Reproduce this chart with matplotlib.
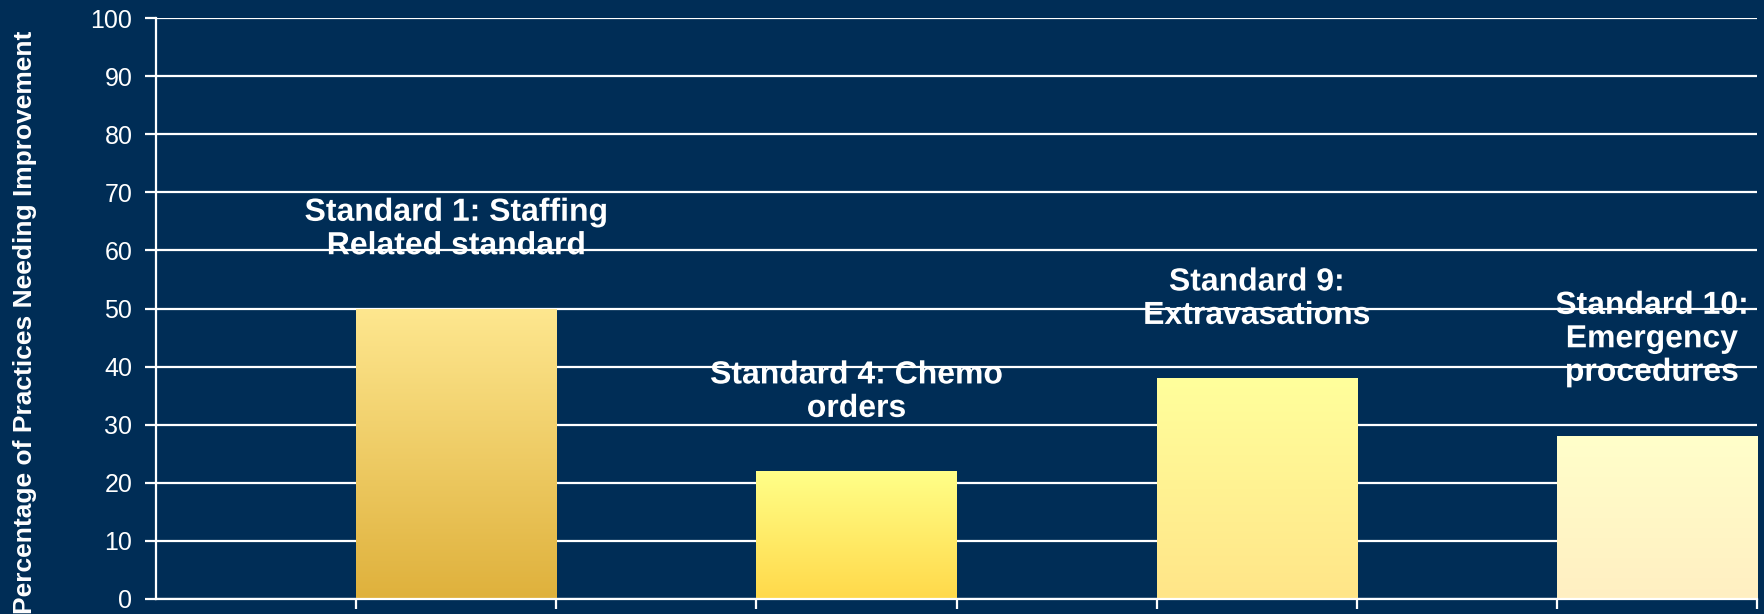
import numpy as np
import matplotlib.pyplot as plt
import matplotlib.patheffects as pe
from matplotlib.colors import LinearSegmentedColormap

plt.rcParams['font.family'] = ['Liberation Sans', 'DejaVu Sans']

# chart data
standards = ['Standard 1: Staffing\nRelated standard',
             'Standard 4: Chemo\norders',
             'Standard 9:\nExtravasations',
             'Standard 10:\nEmergency\nprocedures']
pct_needing_improvement = [50, 22, 38, 28]
y_ticks = [0, 10, 20, 30, 40, 50, 60, 70, 80, 90, 100]

# (top colour, bottom colour) of each bar's gradient
bar_gradients = [('#FEE78F', '#DFB13C'),
                 ('#FFFF88', '#FFD94A'),
                 ('#FFFF9C', '#FFE588'),
                 ('#FFFFCA', '#FFEFC2')]
# label centres (x offset from bar, y in data units)
label_pos = [(0.0, 63.6), (0.0, 35.6), (0.0, 51.6), (-0.025, 44.7)]

bg = '#002D56'
n_slots = 8
x = np.arange(1, n_slots, 2)

fig = plt.figure(figsize=(17.64, 6.14), dpi=100, facecolor=bg)
ax = fig.add_axes([156 / 1764, 1 - 599 / 614, (1757 - 156) / 1764, (599 - 18) / 614])
ax.set_facecolor(bg)

bars = ax.bar(x, pct_needing_improvement, width=1.0, zorder=3)
grad = np.linspace(0, 1, 256).reshape(-1, 1)
for b, (top, bottom) in zip(bars, bar_gradients):
    cmap = LinearSegmentedColormap.from_list('g', [bottom, top])
    x0, y0 = b.get_x(), b.get_y()
    im = ax.imshow(grad, cmap=cmap, origin='lower', aspect='auto',
                   extent=[x0, x0 + b.get_width(), y0, y0 + b.get_height()],
                   zorder=3)
    im.set_clip_path(b)
    b.set_facecolor('none')
    b.set_edgecolor('none')

# bar captions with a faint drop shadow
for xi, text, (dx, ty) in zip(x, standards, label_pos):
    t = ax.text(xi + dx, ty, text, ha='center', va='center', color='white',
                fontsize=23, fontweight='bold', linespacing=1.15, zorder=5)
    t.set_path_effects([pe.SimpleLineShadow(offset=(1, -1), shadow_color='black', alpha=0.4),
                        pe.Normal()])

ax.set_xlim(-0.5, n_slots - 0.5)
ax.set_ylim(0, 100)
ax.set_yticks(y_ticks)
ax.set_xticks(np.arange(0.5, n_slots, 1.0))
ax.set_xticklabels([])
ax.yaxis.grid(True, color='white', linewidth=1.6, zorder=1)
ax.set_axisbelow(True)

for side in ['top', 'right']:
    ax.spines[side].set_visible(False)
for side in ['left', 'bottom']:
    ax.spines[side].set_color('white')
    ax.spines[side].set_linewidth(1.6)
    ax.spines[side].set_zorder(4)

ax.tick_params(axis='y', colors='white', labelsize=18, length=8, width=1.6, pad=9)
ax.tick_params(axis='x', colors='white', length=7, width=1.6)

fig.text(25 / 1764, 1 - 322 / 614, 'Percentage of Practices Needing Improvement',
         rotation=90, ha='center', va='center', color='white',
         fontsize=19, fontweight='bold')

fig.savefig('out.png', dpi=100, facecolor=bg)
